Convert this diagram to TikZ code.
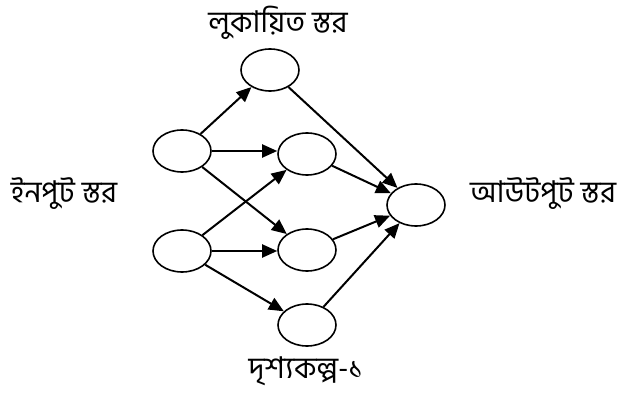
\documentclass[tikz,border=0pt]{standalone}
\usepackage{fontspec}
\newfontfamily\bn[Script=Bengali]{Hind Siliguri}
\usetikzlibrary{arrows.meta,shapes.geometric}
\begin{document}
\begin{tikzpicture}[x=1pt,y=-1pt,
  neuron/.style={draw,ellipse,line width=1.6pt,minimum width=58pt,minimum height=42pt,inner sep=0pt},
  conn/.style={line width=2pt,-{Triangle[length=15pt,width=13pt]}},
  lbl/.style={font=\bn\fontsize{30}{35}\selectfont,inner sep=0pt,anchor=base}]
\path[use as bounding box] (0,0) rectangle (618,398);
\node[neuron] (i1) at (182,151) {};
\node[neuron] (i2) at (182,251) {};
\node[neuron] (h1) at (270,70) {};
\node[neuron] (h2) at (307,154) {};
\node[neuron] (h3) at (307,250) {};
\node[neuron] (h4) at (307,325) {};
\node[neuron] (o) at (416,205) {};
\draw[conn] (i1) -- (h1);
\draw[conn] (i1.east) -- (i1.east -| h2.west);
\draw[conn] (i1) -- (h3);
\draw[conn] (i2) -- (h2);
\draw[conn] (i2.east) -- (i2.east -| h3.west);
\draw[conn] (i2) -- (h4);
\draw[conn] (h1) -- (o);
\draw[conn] (h2) -- (o);
\draw[conn] (h3) -- (o);
\draw[conn] (h4) -- (o);
\node[lbl] (lh) at (278,33) {লুকায়িত স্তর};
\node[lbl] (li) at (64,203) {ইনপুট স্তর};
\node[lbl] (lo) at (543,202) {আউটপুট স্তর};
\node[lbl] (lc) at (306,378) {দৃশ্যকল্প-১};
\end{tikzpicture}
\end{document}
